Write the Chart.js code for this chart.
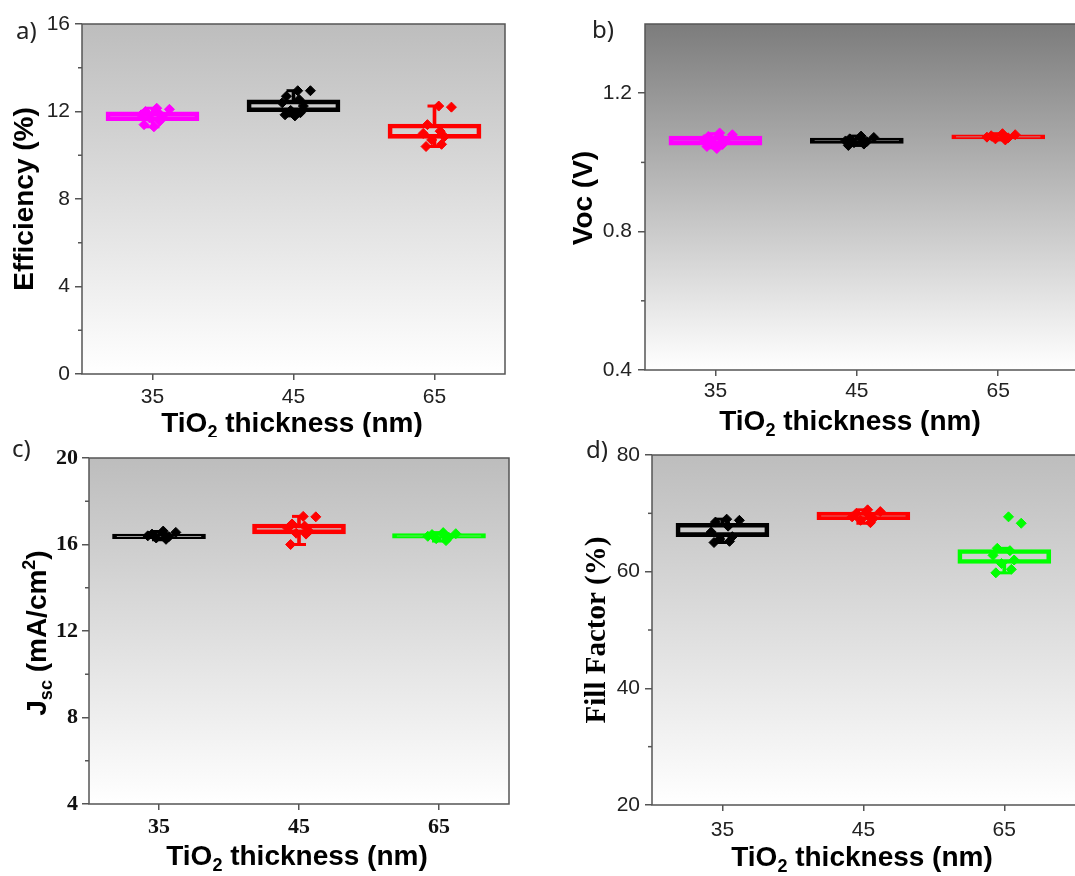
<!DOCTYPE html>
<html>
<head>
<meta charset="utf-8">
<script src="https://cdn.jsdelivr.net/npm/chart.js@4.4.0/dist/chart.umd.min.js"></script>
<style>
  html, body { margin: 0; padding: 0; background: #fff; overflow: hidden; }
  #wrap { position: relative; width: 1075px; height: 876px; overflow: hidden; }
  canvas { position: absolute; }
</style>
</head>
<body>
<div id="wrap">
  <canvas id="panelA"></canvas>
  <canvas id="panelB"></canvas>
  <canvas id="panelC"></canvas>
  <canvas id="panelD"></canvas>
</div>
<script>
// --- DATA --- //
const thickness = ['35', '45', '65'];

// a) efficiency (%)
const effQ1 = [11.58, 11.99, 10.77];
const effQ3 = [11.99, 12.53, 11.43];
const effMin = [11.3, 11.8, 10.4];
const effMax = [12.15, 12.95, 12.25];
const effPts35 = [12.15, 12.1, 12.0, 11.95, 11.85, 11.75, 11.7, 11.55, 11.4, 11.3];
const effPts45 = [12.95, 12.95, 12.7, 12.55, 12.4, 12.25, 12.05, 11.95, 11.85, 11.8];
const effPts65 = [12.25, 12.2, 11.4, 11.1, 11.0, 10.85, 10.7, 10.5, 10.4];

// b) Voc (V)
const vocQ1 = [1.050, 1.055, 1.068];
const vocQ3 = [1.076, 1.070, 1.080];
const vocMin = [1.042, 1.049, 1.065];
const vocMax = [1.083, 1.076, 1.083];
const vocPts35 = [1.085, 1.08, 1.075, 1.07, 1.066, 1.062, 1.058, 1.052, 1.046, 1.04];
const vocPts45 = [1.076, 1.072, 1.068, 1.065, 1.062, 1.06, 1.057, 1.053, 1.049];
const vocPts65 = [1.083, 1.08, 1.077, 1.075, 1.073, 1.071, 1.068, 1.065];

// c) Jsc (mA/cm2)
const jscQ1 = [16.27, 16.49, 16.29];
const jscQ3 = [16.48, 16.95, 16.5];
const jscMin = [16.22, 16.0, 16.16];
const jscMax = [16.6, 17.3, 16.55];
const jscPts35 = [16.62, 16.56, 16.48, 16.44, 16.4, 16.36, 16.3, 16.24];
const jscPts45 = [17.3, 17.28, 16.95, 16.85, 16.75, 16.62, 16.52, 16.48, 16.0];
const jscPts65 = [16.55, 16.5, 16.46, 16.42, 16.38, 16.33, 16.27, 16.18];

// d) fill factor (%)
const ffQ1 = [66.0, 68.9, 61.4];
const ffQ3 = [68.3, 70.2, 63.8];
const ffMin = [65.0, 68.3, 59.8];
const ffMax = [69.0, 70.6, 64.0];
const ffPts35 = [69.0, 68.8, 68.5, 67.8, 66.8, 66.0, 65.6, 65.2, 65.0];
const ffPts45 = [70.6, 70.3, 70.0, 69.7, 69.4, 69.1, 68.8, 68.4];
const ffPts65 = [69.4, 68.3, 64.0, 63.6, 62.8, 62.0, 61.4, 60.4, 59.8];

// horizontal spread of the dots inside a box (category units)
const jitter = [0.03, 0.12, -0.05, 0.04, -0.08, 0.07, -0.02, 0.05, -0.06, 0.01];

// --- STYLE --- //
const colorsAB = ['#ff00ff', '#000000', '#ff0000'];
const colorsCD = ['#000000', '#ff0000', '#00ff00'];
const SANS = "'Liberation Sans', Arial, sans-serif";
const SERIF = "'Liberation Serif', 'Times New Roman', serif";
const AXIS_COLOR = '#555';

const xTitleSegs = [{ t: 'TiO' }, { t: '2', sub: true }, { t: ' thickness (nm)' }];

// draw text made of pieces, some of them sub/superscript
function drawRich(ctx, segs, x, y, rotate, family, size, weight) {
  const fontOf = s => `${weight} ${(s.sub || s.sup) ? Math.round(size * 0.65) : size}px ${family}`;
  let total = 0;
  segs.forEach(s => { ctx.font = fontOf(s); s.w = ctx.measureText(s.t).width; total += s.w; });
  ctx.save();
  ctx.translate(x, y);
  if (rotate) ctx.rotate(-Math.PI / 2);
  ctx.fillStyle = '#000';
  ctx.textAlign = 'left';
  ctx.textBaseline = 'alphabetic';
  let cx = -total / 2;
  segs.forEach(s => {
    ctx.font = fontOf(s);
    const dy = s.sub ? size * 0.22 : (s.sup ? -size * 0.4 : 0);
    ctx.fillText(s.t, cx, dy);
    cx += s.w;
  });
  ctx.restore();
}

function makePanel(cfg) {
  const canvas = document.getElementById(cfg.id);
  canvas.width = cfg.width;
  canvas.height = cfg.height;
  canvas.style.left = cfg.left + 'px';
  canvas.style.top = cfg.top + 'px';
  canvas.style.width = cfg.width + 'px';
  canvas.style.height = cfg.height + 'px';

  const datasets = [];
  cfg.pts.forEach((vals, i) => {
    datasets.push({
      type: 'scatter',
      data: vals.map((v, k) => ({ x: i + jitter[k % jitter.length], y: v })),
      pointStyle: 'rectRot',
      pointRadius: 5,
      backgroundColor: cfg.colors[i],
      borderColor: cfg.colors[i],
      borderWidth: 1,
      order: 0
    });
    datasets.push({
      type: 'scatter',
      data: [{ x: i, y: cfg.hi[i] }, { x: i, y: cfg.lo[i] }],
      pointStyle: 'line',
      pointRadius: 7,
      borderColor: cfg.colors[i],
      borderWidth: 3,
      order: 1
    });
  });
  // box
  datasets.push({
    type: 'bar',
    data: thickness.map((c, i) => ({ x: i, y: [cfg.q1[i], cfg.q3[i]] })),
    backgroundColor: 'rgba(0,0,0,0)',
    borderColor: cfg.colors,
    borderWidth: 4,
    borderSkipped: false,
    barThickness: 93,
    maxBarThickness: 93,
    grouped: false,
    order: 2
  });
  // whiskers
  datasets.push({
    type: 'bar',
    data: thickness.map((c, i) => ({ x: i, y: [cfg.q3[i], cfg.hi[i]] })),
    backgroundColor: cfg.colors,
    borderWidth: 0,
    barThickness: 3,
    maxBarThickness: 3,
    grouped: false,
    order: 3
  });
  datasets.push({
    type: 'bar',
    data: thickness.map((c, i) => ({ x: i, y: [cfg.lo[i], cfg.q1[i]] })),
    backgroundColor: cfg.colors,
    borderWidth: 0,
    barThickness: 3,
    maxBarThickness: 3,
    grouped: false,
    order: 3
  });

  const deco = {
    id: 'deco',
    beforeDraw(chart) {
      const { ctx, chartArea: a } = chart;
      const g = ctx.createLinearGradient(0, a.top, 0, a.bottom);
      g.addColorStop(0, cfg.gradTop);
      g.addColorStop(1, '#ffffff');
      ctx.save();
      ctx.fillStyle = g;
      ctx.fillRect(a.left, a.top, a.right - a.left, a.bottom - a.top);
      ctx.restore();
    },
    afterDraw(chart) {
      const { ctx, chartArea: a } = chart;
      const y = chart.scales.y;
      ctx.save();
      ctx.strokeStyle = AXIS_COLOR;
      ctx.lineWidth = 1.5;
      ctx.strokeRect(a.left, a.top, a.right - a.left, a.bottom - a.top);
      // minor ticks
      cfg.yMinor.forEach(v => {
        const py = y.getPixelForValue(v);
        ctx.beginPath();
        ctx.moveTo(a.left - 4, py);
        ctx.lineTo(a.left, py);
        ctx.stroke();
      });
      ctx.restore();
      // axis titles and panel label
      const yt = cfg.yTitle;
      drawRich(ctx, yt.segs, yt.x - cfg.left, yt.y - cfg.top, true, yt.family, yt.size, 'bold');
      drawRich(ctx, xTitleSegs, cfg.xTitle.x - cfg.left, cfg.xTitle.y - cfg.top, false, SANS, 28, 'bold');
      ctx.save();
      ctx.font = "24px 'Noto Sans', sans-serif";
      ctx.fillStyle = '#222';
      ctx.textAlign = 'left';
      ctx.textBaseline = 'alphabetic';
      ctx.fillText(cfg.label.t, cfg.label.x - cfg.left, cfg.label.y - cfg.top);
      ctx.restore();
    }
  };

  return new Chart(canvas.getContext('2d'), {
    type: 'bar',
    data: { datasets },
    options: {
      responsive: false,
      devicePixelRatio: 1,
      animation: false,
      layout: { padding: { left: 0, top: cfg.pad.top, right: cfg.pad.right, bottom: 0 } },
      plugins: { legend: { display: false }, tooltip: { enabled: false } },
      scales: {
        x: {
          type: 'linear',
          min: cfg.xMin,
          max: cfg.xMax,
          offset: false,
          afterBuildTicks: s => { s.ticks = [0, 1, 2].map(v => ({ value: v })); },
          afterFit: s => { s.height = cfg.xHeight; },
          ticks: {
            callback: v => thickness[v],
            font: cfg.tickFont,
            color: cfg.tickColor,
            padding: cfg.xTickPad,
            maxRotation: 0,
            autoSkip: false
          },
          grid: { offset: false, drawOnChartArea: false, tickLength: 6, color: AXIS_COLOR, lineWidth: 1.5 },
          border: { display: false }
        },
        y: {
          type: 'linear',
          min: cfg.yMin,
          max: cfg.yMax,
          afterBuildTicks: s => { s.ticks = cfg.yMajor.map(v => ({ value: v })); },
          afterFit: s => { s.width = cfg.yWidth; },
          ticks: {
            callback: cfg.yFmt,
            font: cfg.tickFont,
            color: cfg.tickColor,
            padding: cfg.yTickPad
          },
          grid: { drawOnChartArea: false, tickLength: 7, color: AXIS_COLOR, lineWidth: 1.5 },
          border: { display: false }
        }
      }
    },
    plugins: [deco]
  });
}

const sansTick = { family: SANS, size: 21 };
const serifTick = { family: SERIF, size: 22, weight: 'bold' };

makePanel({
  id: 'panelA', left: 0, top: 0, width: 540, height: 437,
  pad: { top: 24, right: 35 }, yWidth: 82, xHeight: 63,
  xMin: -0.5, xMax: 2.5,
  yMin: 0, yMax: 16, yMajor: [0, 4, 8, 12, 16], yMinor: [2, 6, 10, 14], yFmt: v => String(v),
  tickFont: sansTick, tickColor: '#222', yTickPad: 5, xTickPad: 5,
  colors: colorsAB, q1: effQ1, q3: effQ3, lo: effMin, hi: effMax, pts: [effPts35, effPts45, effPts65],
  gradTop: '#bdbdbd',
  yTitle: { segs: [{ t: 'Efficiency (%)' }], x: 33, y: 199, family: SANS, size: 28 },
  xTitle: { x: 292, y: 432 },
  label: { t: 'a)', x: 16, y: 39 }
});

makePanel({
  id: 'panelB', left: 540, top: 0, width: 560, height: 437,
  pad: { top: 24, right: 22 }, yWidth: 105, xHeight: 67,
  xMin: -0.498, xMax: 2.564,
  yMin: 0.4, yMax: 1.4, yMajor: [0.4, 0.8, 1.2], yMinor: [0.6, 1.0], yFmt: v => v.toFixed(1),
  tickFont: sansTick, tickColor: '#222', yTickPad: 6, xTickPad: 3,
  colors: colorsAB, q1: vocQ1, q3: vocQ3, lo: vocMin, hi: vocMax, pts: [vocPts35, vocPts45, vocPts65],
  gradTop: '#7c7c7c',
  yTitle: { segs: [{ t: 'Voc (V)' }], x: 592, y: 198, family: SANS, size: 28 },
  xTitle: { x: 850, y: 430 },
  label: { t: 'b)', x: 592, y: 38 }
});

makePanel({
  id: 'panelC', left: 0, top: 437, width: 540, height: 439,
  pad: { top: 21, right: 31 }, yWidth: 89, xHeight: 72,
  xMin: -0.5, xMax: 2.5,
  yMin: 4, yMax: 20, yMajor: [4, 8, 12, 16, 20], yMinor: [6, 10, 14, 18], yFmt: v => String(v),
  tickFont: serifTick, tickColor: '#111', yTickPad: 4, xTickPad: 4,
  colors: colorsCD, q1: jscQ1, q3: jscQ3, lo: jscMin, hi: jscMax, pts: [jscPts35, jscPts45, jscPts65],
  gradTop: '#bdbdbd',
  yTitle: { segs: [{ t: 'J' }, { t: 'sc', sub: true }, { t: ' (mA/cm' }, { t: '2', sup: true }, { t: ')' }], x: 46, y: 633, family: SANS, size: 28 },
  xTitle: { x: 297, y: 865 },
  label: { t: 'c)', x: 12, y: 457 }
});

makePanel({
  id: 'panelD', left: 540, top: 437, width: 560, height: 439,
  pad: { top: 18, right: 22 }, yWidth: 112, xHeight: 71,
  xMin: -0.5, xMax: 2.523,
  yMin: 20, yMax: 80, yMajor: [20, 40, 60, 80], yMinor: [30, 50, 70], yFmt: v => String(v),
  tickFont: sansTick, tickColor: '#222', yTickPad: 5, xTickPad: 7,
  colors: colorsCD, q1: ffQ1, q3: ffQ3, lo: ffMin, hi: ffMax, pts: [ffPts35, ffPts45, ffPts65],
  gradTop: '#bdbdbd',
  yTitle: { segs: [{ t: 'Fill Factor (%)' }], x: 605, y: 630, family: SERIF, size: 29 },
  xTitle: { x: 862, y: 866 },
  label: { t: 'd)', x: 586, y: 458 }
});
</script>
</body>
</html>
